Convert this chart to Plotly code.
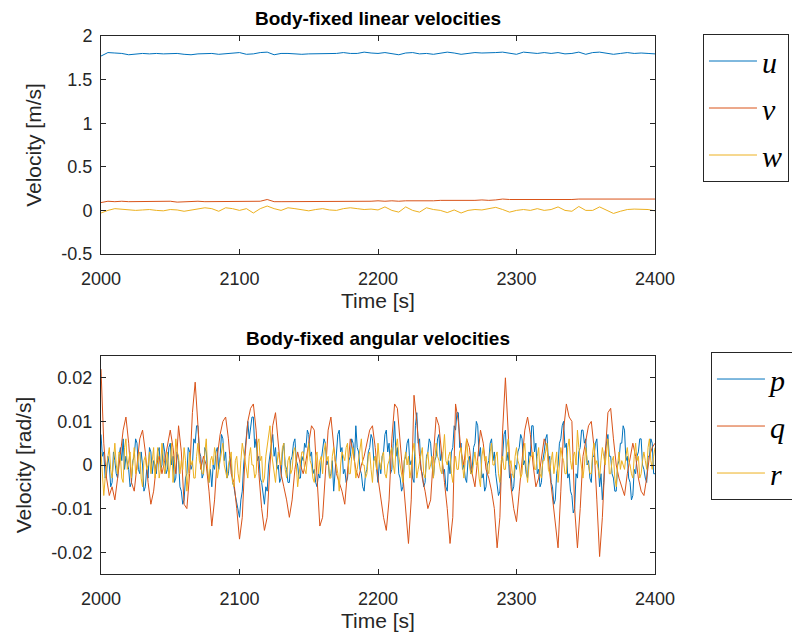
import numpy as np
import plotly.graph_objects as go

# ---------------- data ----------------
# linear velocities, sampled every 5 s from 2000 s to 2400 s
u = [1.77, 1.81, 1.805, 1.80, 1.785, 1.795, 1.80, 1.795, 1.80, 1.795, 1.80, 1.80, 1.79, 1.785, 1.795, 1.80,
     1.80, 1.79, 1.795, 1.805, 1.81, 1.79, 1.795, 1.81, 1.815, 1.785, 1.80, 1.80, 1.795, 1.79, 1.795, 1.795,
     1.80, 1.80, 1.80, 1.81, 1.80, 1.80, 1.815, 1.805, 1.80, 1.81, 1.80, 1.785, 1.805, 1.81, 1.795, 1.80,
     1.79, 1.80, 1.815, 1.805, 1.79, 1.80, 1.81, 1.805, 1.805, 1.81, 1.815, 1.80, 1.79, 1.815, 1.805, 1.80,
     1.81, 1.80, 1.81, 1.795, 1.80, 1.815, 1.79, 1.81, 1.815, 1.805, 1.79, 1.80, 1.81, 1.80, 1.805, 1.80, 1.795]
v = [0.09, 0.105, 0.10, 0.105, 0.10, 0.10, 0.105, 0.10, 0.10, 0.10, 0.105, 0.095, 0.10, 0.10, 0.105, 0.10,
     0.10, 0.10, 0.105, 0.10, 0.10, 0.105, 0.10, 0.105, 0.125, 0.10, 0.10, 0.10, 0.105, 0.10, 0.105, 0.10,
     0.105, 0.10, 0.105, 0.10, 0.105, 0.105, 0.10, 0.105, 0.11, 0.105, 0.11, 0.105, 0.11, 0.11, 0.105, 0.11,
     0.11, 0.115, 0.115, 0.11, 0.115, 0.11, 0.115, 0.12, 0.115, 0.12, 0.13, 0.125, 0.125, 0.12, 0.125, 0.12,
     0.125, 0.125, 0.12, 0.125, 0.125, 0.13, 0.13, 0.125, 0.13, 0.13, 0.125, 0.13, 0.125, 0.13, 0.13, 0.125, 0.13]
w = [-0.03, 0.0, 0.02, 0.015, 0.01, 0.0, 0.005, 0.01, 0.0, -0.005, 0.01, 0.005, -0.01, 0.005, 0.02, 0.03,
     0.02, -0.01, 0.03, 0.02, 0.0, 0.02, -0.03, 0.02, 0.05, 0.02, 0.0, 0.03, 0.02, 0.005, -0.005, 0.01,
     0.02, 0.005, 0.0, 0.02, 0.03, 0.02, 0.01, 0.015, 0.005, 0.04, 0.0, -0.02, 0.04, 0.0, -0.02, 0.03,
     0.01, 0.0, -0.025, 0.005, -0.03, 0.0, 0.01, 0.005, 0.02, 0.035, 0.01, -0.02, 0.0, 0.01, 0.0, 0.02,
     0.0, 0.01, 0.04, 0.0, -0.01, 0.045, 0.0, 0.0, 0.04, 0.0, -0.035, -0.01, 0.01, 0.015, 0.01, 0.01, -0.005]

# angular velocities in units of 1e-3 rad/s
# p and r sampled every 1 s (2000..2400 s), q every 2 s (2000..2400 s)
p_milli = [7, 2, 3, -3, -2, 2, 0, -5, -4, 3, 1, -2, -3, 2, 4, 1, 6, -1, 2, 0,
           -1, -5, -4, 1, 2, 6, 5, -1, -2, 3, 0, -6, -5, -1, -3, 4, 3, -2, 1, 0,
           -2, 3, 4, -1, 0, 5, 3, -2, -1, 4, 5, 0, 2, -4, -3, 3, 1, -5, -6, -9,
           -8, -3, -2, 4, 3, -1, 0, 6, 5, 9, 9, 3, 2, -3, -2, 4, 3, -2, -4, -1,
           -5, 0, -1, 3, 4, -1, 2, 7, 6, 1, 3, -3, -2, 2, 0, -4, -5, -7, -9, -10,
           -12, -8, -6, 0, 4, 8, 10, 6, 8, 11, 11, 4, 6, 1, 2, -3, -4, -7, -9, -5,
           -6, 0, 2, 5, 7, 2, 4, -1, 0, -4, -3, 3, 5, 0, -1, -4, -4, 1, 2, 5,
           6, 1, 0, -3, -3, 2, 1, 5, 4, 8, 7, 2, 3, -2, -1, -4, -5, -2, -3, 1,
           3, 6, 5, 0, 1, -3, -2, 1, -6, -2, 2, 7, 8, 3, 4, -2, -1, -4, -3, 1,
           2, 6, 5, 1, 9, 4, 3, -1, -2, -5, -6, -2, -1, 3, 4, 7, 6, 1, 2, -2,
           -4, 1, -2, 2, 3, 7, 8, 3, 5, -2, -1, 5, 10, 2, 4, -2, -3, -6, -5, 1,
           2, 5, 6, 0, 1, -3, -4, 9, 12, 5, 6, -1, -2, -5, -4, 2, 3, 6, 5, 0,
           -3, 1, 2, 6, 7, 1, 3, -2, -1, -5, -6, 1, -2, 3, 4, 9, 8, 12, 12, 4,
           5, -1, 0, -3, -4, 1, 2, -2, -1, 4, 5, 10, 9, 2, 4, -3, -2, -6, -5, 0,
           1, 5, 6, 1, 3, -2, -4, -7, -6, 0, 2, 7, 8, 1, 3, -3, -2, -6, -5, 0,
           -1, 3, 4, 7, 6, 0, 1, -2, -3, 3, 2, 9, 9, 3, 5, -2, -1, -5, -4, 1,
           3, 6, 7, 1, 2, -4, -5, -9, -8, -2, 0, 5, 6, 9, 10, 4, 5, -3, -2, -6,
           -7, -11, -10, -2, -3, 3, 4, 8, 8, 5, 6, 0, 1, -3, -4, 2, 2, 5, 6, 1,
           -5, -2, -8, -4, 3, 5, 7, 2, 2, -2, -3, -6, -6, 0, 1, 5, 5, 9, 8, 1,
           2, -3, -4, -8, -7, -1, -2, 2, 3, 6, 6, 0, -1, -3, -4, 2, 2, 6, 5, -2,
           -2]
q_milli = [22, 5, -3, -7, -5, -8, -3, 2, 8, 11, 5, -4, -6, 0, 6, 8, 3, -4, -9, -6,
           0, 2, -2, 1, 5, 8, 4, -2, 9, 3, -9, -10, -2, 12, 19, 8, -1, 2, 0, -6,
           -14, -8, 2, 7, 10, 11, 6, -2, -4, -10, -17, -12, 2, 10, 13, 14, 8, -2, -10, -15,
           -12, 0, 9, 12, 4, -2, -5, -8, -12, -8, -1, 3, 0, -2, 1, 5, 9, 8, -3, -14,
           -12, -2, 8, 11, 5, -2, -4, -6, -9, -2, 6, 3, -1, -3, 0, 2, 5, 8, 9, 4,
           -3, -8, -12, -15, -8, 6, 14, 13, 5, -4, -12, -18, -8, 16, 10, 2, -3, -6, -10, -8,
           2, 11, 9, 2, -4, -10, -18, -12, 14, 10, 3, 0, 6, 4, -2, -5, 2, 8, 5, -1,
           -3, -6, -10, -19, -12, 8, 20, 6, -5, -10, -13, -6, 2, 8, 11, 7, 0, -5, -3, 2,
           6, 4, -2, -8, -14, -19, -6, 8, 14, 11, 10, -10, -19, -10, 2, 6, 9, 10, 4, -8,
           -21, -12, 2, 12, 13, 6, 0, -3, -5, -7, -2, 2, 5, 2, -3, -6, -7, -3, 2, 4,
           5]
r_milli = [3, -2, -7, -3, 0, 2, 4, -1, -3, 1, 5, 0, -2, 3, 2, -3, -4, 4, 6, -1,
           1, 3, -3, 0, 4, -2, -1, 2, 3, -3, -5, 1, 2, -1, 0, 3, -2, 1, 4, -3,
           1, 4, -3, -1, 5, 2, -2, 0, 3, -3, 0, 5, -4, -1, 6, 3, 2, -2, 1, -1,
           4, 1, -6, -2, 3, 0, 1, -3, -3, 2, 5, 1, 0, -2, -2, 3, 6, -1, -4, 1,
           2, 0, 4, 2, -3, -1, 1, 4, 5, 0, -2, -3, 0, 2, 3, -4, -5, 1, 2, -2,
           -4, 1, 5, 3, 1, -2, -3, 2, 4, 0, 0, -3, -2, 5, 6, 1, 2, -4, -3, 2,
           4, 7, 9, 3, 1, -2, -4, 0, 3, 1, 0, 4, 5, -1, -3, 1, 2, -2, -1, 3,
           4, 0, -5, -2, 1, 3, 3, -1, -2, 2, 5, 1, 0, -3, -4, 2, 3, -2, 1, 2,
           -2, 3, 5, 1, 2, -3, -3, 2, 4, 1, 0, -2, -6, 0, 3, 2, 1, 4, 5, -2,
           -2, 2, 4, 1, -3, -1, 1, 3, 6, 0, 0, -3, -2, 2, 3, -1, -4, 1, 2, -1,
           5, 1, -1, 2, 3, -2, -3, 0, 1, 3, 4, 0, -2, 4, 6, 2, 0, -2, -4, 1,
           3, 0, 2, -3, -1, 3, 5, 2, -3, -1, 1, 2, 4, -2, -3, 1, 3, -1, 0, 2,
           -3, 1, 5, 2, 1, -1, -2, 3, 7, 1, 0, 2, 3, -2, -4, 0, 2, -1, -1, 3,
           4, 0, -3, 1, 6, 2, 0, -2, -2, 1, 3, 0, 1, -3, -5, 2, 4, 1, 2, -1,
           -2, 3, 5, 0, 0, 2, 3, -2, -4, 1, 2, -1, -1, 4, 6, 0, 1, -2, -3, 2,
           4, 1, 0, -3, -2, 3, 5, -1, -4, 0, 2, 2, 3, -1, -1, 2, 4, -2, -3, 1,
           1, 3, 5, -1, -2, 1, 3, -2, 0, 3, -4, 0, 4, 2, 1, -2, -2, 4, 6, 1,
           -1, 2, 3, 0, 8, 4, 2, -1, -3, 0, 4, 1, 0, -2, -2, 3, 5, 0, 1, -1,
           -3, 1, 4, 2, 0, 3, 6, -2, -2, 1, 2, -3, -5, 0, 3, -1, 1, 0, -1, 2,
           4, 1, 0, -2, -3, 2, 5, 1, 2, -3, -2, 1, 3, 1, -1, 4, 6, 1, -1, 2,
           4]

t_start, t_end = 2000, 2400
x_ticks = [2000, 2100, 2200, 2300, 2400]
x_ticklabels = ["2000", "2100", "2200", "2300", "2400"]
y1_ticks = [-0.5, 0, 0.5, 1, 1.5, 2]
y1_ticklabels = ["-0.5", "0", "0.5", "1", "1.5", "2"]
y2_ticks = [-0.02, -0.01, 0, 0.01, 0.02]
y2_ticklabels = ["-0.02", "-0.01", "0", "0.01", "0.02"]

t_lin = np.linspace(t_start, t_end, len(u))
t_p = np.linspace(t_start, t_end, len(p_milli))
t_q = np.linspace(t_start, t_end, len(q_milli))
t_r = np.linspace(t_start, t_end, len(r_milli))
p = np.array(p_milli) * 1e-3
q = np.array(q_milli) * 1e-3
r = np.array(r_milli) * 1e-3

# ---------------- style ----------------
C1, C2, C3 = "#0072BD", "#D95319", "#EDB120"
AX = "#262626"
SANS = "Liberation Sans, Arial, sans-serif"
SERIF = "Liberation Serif, DejaVu Serif, serif"

fig = go.Figure()
fig.add_trace(go.Scatter(x=t_lin, y=u, mode="lines", name="<i>u</i>", line=dict(color=C1, width=1),
                         xaxis="x", yaxis="y", legend="legend", legendgroup="u"))
fig.add_trace(go.Scatter(x=t_lin, y=v, mode="lines", name="<i>v</i>", line=dict(color=C2, width=1),
                         xaxis="x", yaxis="y", legend="legend", legendgroup="v"))
fig.add_trace(go.Scatter(x=t_lin, y=w, mode="lines", name="<i>w</i>", line=dict(color=C3, width=1),
                         xaxis="x", yaxis="y", legend="legend", legendgroup="w"))
fig.add_trace(go.Scatter(x=t_p, y=p, mode="lines", name="<i>p</i>", line=dict(color=C1, width=1),
                         xaxis="x2", yaxis="y2", legend="legend2", legendgroup="p"))
fig.add_trace(go.Scatter(x=t_q, y=q, mode="lines", name="<i>q</i>", line=dict(color=C2, width=1),
                         xaxis="x2", yaxis="y2", legend="legend2", legendgroup="q"))
fig.add_trace(go.Scatter(x=t_r, y=r, mode="lines", name="<i>r</i>", line=dict(color=C3, width=1),
                         xaxis="x2", yaxis="y2", legend="legend2", legendgroup="r"))

axis_common = dict(showline=True, linecolor=AX, linewidth=1, mirror="ticks", ticks="inside",
                   ticklen=5, tickcolor=AX, tickwidth=1, showgrid=False, zeroline=False,
                   tickfont=dict(family=SANS, size=18, color=AX))
title_font = dict(family=SANS, size=21, color=AX)

fig.update_layout(
    width=792, height=639,
    margin=dict(l=101, r=137, t=36, b=65, autoexpand=False),
    paper_bgcolor="white", plot_bgcolor="white",
    xaxis=dict(domain=[0, 1], anchor="y", range=[t_start, t_end], tickvals=x_ticks, ticktext=x_ticklabels,
               ticklabelstandoff=8, title=dict(text="Time [s]", font=title_font, standoff=4),
               **axis_common),
    yaxis=dict(domain=[0.5948, 1], anchor="x", range=[-0.5, 2], tickvals=y1_ticks, ticktext=y1_ticklabels,
               ticklabelstandoff=4, title=dict(text="Velocity [m/s]", font=title_font, standoff=14),
               **axis_common),
    xaxis2=dict(domain=[0, 1], anchor="y2", range=[t_start, t_end], tickvals=x_ticks, ticktext=x_ticklabels,
                ticklabelstandoff=8, title=dict(text="Time [s]", font=title_font, standoff=4),
                **axis_common),
    yaxis2=dict(domain=[0, 0.4052], anchor="x2", range=[-0.025, 0.025], tickvals=y2_ticks, ticktext=y2_ticklabels,
                ticklabelstandoff=4, title=dict(text="Velocity [rad/s]", font=title_font, standoff=14),
                **axis_common),
    legend=dict(x=1.0866, y=1.0037, xanchor="left", yanchor="top", bordercolor=AX, borderwidth=1,
                bgcolor="white", font=dict(family=SERIF, size=30, color="black"),
                traceorder="grouped", tracegroupgap=5, itemwidth=48),
    legend2=dict(x=1.101, y=0.4126, xanchor="left", yanchor="top", bordercolor=AX, borderwidth=1,
                 bgcolor="white", font=dict(family=SERIF, size=30, color="black"),
                 traceorder="grouped", tracegroupgap=5, itemwidth=48),
    annotations=[
        dict(text="<b>Body-fixed linear velocities</b>", x=0.5, y=1, xref="paper", yref="paper",
             xanchor="center", yanchor="bottom", yshift=5, showarrow=False,
             font=dict(family=SANS, size=19, color="black")),
        dict(text="<b>Body-fixed angular velocities</b>", x=0.5, y=0.4052, xref="paper", yref="paper",
             xanchor="center", yanchor="bottom", yshift=5, showarrow=False,
             font=dict(family=SANS, size=19, color="black")),
    ],
)

fig.write_html("out.html")
